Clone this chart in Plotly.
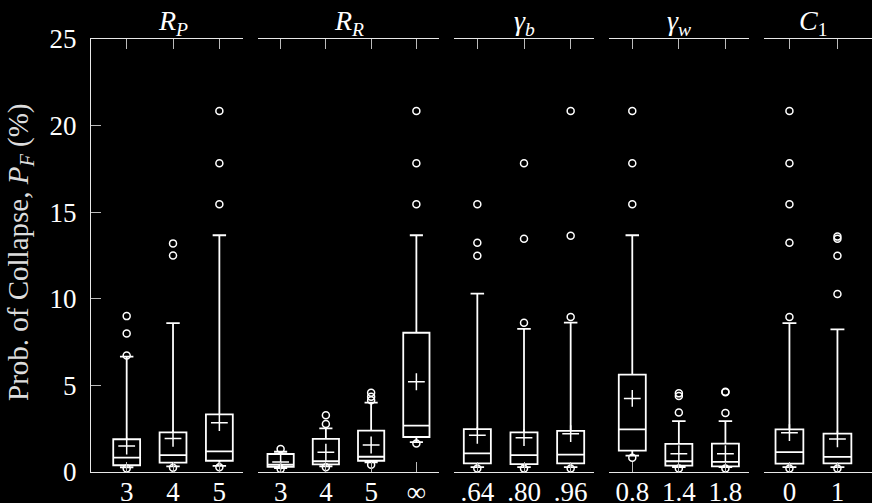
import plotly.graph_objects as go

# ---- data ----
panel_titles = ["<i>R</i><sub><i>P</i></sub>", "<i>R</i><sub><i>R</i></sub>",
                "<i>γ</i><sub><i>b</i></sub>", "<i>γ</i><sub><i>w</i></sub>",
                "<i>C</i><sub>1</sub>"]
panel_ticks = [["3", "4", "5"], ["3", "4", "5", "∞"], [".64", ".80", ".96"],
               ["0.8", "1.4", "1.8"], ["0", "1"]]

box_panel = [0, 0, 0, 1, 1, 1, 1, 2, 2, 2, 3, 3, 3, 4, 4]
box_slot = [0, 1, 2, 0, 1, 2, 3, 0, 1, 2, 0, 1, 2, 0, 1]
q1 = [0.39, 0.54, 0.65, 0.30, 0.44, 0.65, 2.02, 0.50, 0.46, 0.50, 1.23, 0.37, 0.33, 0.48, 0.50]
median = [0.83, 0.98, 1.19, 0.42, 0.62, 0.88, 2.68, 1.08, 0.98, 1.00, 2.46, 0.62, 0.58, 1.15, 0.87]
q3 = [1.89, 2.29, 3.33, 1.04, 1.91, 2.39, 8.04, 2.48, 2.29, 2.37, 5.62, 1.62, 1.64, 2.46, 2.21]
lower_whisker = [0.27, 0.32, 0.35, 0.22, 0.33, 0.55, 1.72, 0.28, 0.28, 0.28, 0.95, 0.28, 0.28, 0.28, 0.28]
upper_whisker = [6.66, 8.60, 13.67, 1.17, 2.52, 4.00, 13.67, 10.30, 8.26, 8.62, 13.67, 2.94, 2.94, 8.60, 8.24]
mean = [1.50, 1.94, 2.85, 0.58, 1.14, 1.56, 5.21, 2.12, 1.98, 2.21, 4.25, 1.06, 1.06, 2.27, 1.91]
outliers = [
    [9.0, 8.0, 6.72, 0.2],
    [13.2, 12.5, 0.25],
    [20.84, 17.82, 15.46, 0.28],
    [1.33, 0.17],
    [3.27, 2.77, 0.27],
    [4.58, 4.35, 4.14, 0.42],
    [20.84, 17.82, 15.46, 1.65],
    [15.46, 13.24, 12.49, 0.2],
    [17.82, 13.47, 8.62, 0.2],
    [20.84, 13.64, 8.95, 0.2],
    [20.84, 17.82, 15.46, 0.82],
    [4.54, 4.39, 3.43, 0.2],
    [4.64, 4.60, 3.41, 0.2],
    [20.84, 17.82, 15.46, 13.24, 8.95, 0.2],
    [13.59, 13.47, 12.49, 10.28, 0.2],
]
y_ticks = [0, 5, 10, 15, 20, 25]

# ---- layout geometry ----
W, H = 872, 503
ML, MR, MT, MB = 91, 0, 39, 31
PW = W - ML - MR
PH = H - MT - MB
panel_px = [(91, 243), (258, 439), (454, 594), (609, 748.7), (764, 872)]
panel_ranges = [[-0.77, 2.51], [-0.5, 3.5], [-0.5, 2.5], [-0.5, 2.5], [-0.53, 1.72]]

FONT = "Liberation Serif"
LINE = "#e8e8e8"
WHITE = "#ffffff"

fig = go.Figure()

def axname(p):
    return "x" if p == 0 else f"x{p+1}"

for i in range(len(q1)):
    p = box_panel[i]
    xa = axname(p)
    fig.add_trace(go.Box(
        x=[box_slot[i]], q1=[q1[i]], median=[median[i]], q3=[q3[i]],
        lowerfence=[lower_whisker[i]], upperfence=[upper_whisker[i]],
        width=0.58, whiskerwidth=0.5, boxpoints=False,
        line=dict(color=WHITE, width=1.8), fillcolor="rgba(0,0,0,0)",
        xaxis=xa, yaxis="y", showlegend=False, hoverinfo="skip"))
    fig.add_trace(go.Scatter(
        x=[box_slot[i]] * len(outliers[i]), y=outliers[i], mode="markers",
        marker=dict(symbol="circle-open", size=7, color=WHITE, line=dict(width=1.5, color=WHITE)),
        xaxis=xa, yaxis="y", showlegend=False, hoverinfo="skip"))
    fig.add_trace(go.Scatter(
        x=[box_slot[i]], y=[mean[i]], mode="markers",
        marker=dict(symbol="cross-thin", size=12, color=WHITE, line=dict(width=1.5, color=WHITE)),
        xaxis=xa, yaxis="y", showlegend=False, hoverinfo="skip"))

layout = dict(
    width=W, height=H,
    margin=dict(l=ML, r=MR, t=MT, b=MB, pad=0, autoexpand=False),
    paper_bgcolor="black", plot_bgcolor="black",
    font=dict(family=FONT, color=WHITE, size=24),
    showlegend=False,
)

for p in range(5):
    x0, x1 = panel_px[p]
    key = "xaxis" if p == 0 else f"xaxis{p+1}"
    layout[key] = dict(
        domain=[(x0 - ML) / PW, min(1.0, (x1 - ML) / PW)],
        range=panel_ranges[p], anchor="y", automargin=False,
        tickmode="array", tickvals=list(range(len(panel_ticks[p]))), ticktext=panel_ticks[p],
        ticks="inside", ticklen=10, tickwidth=1, tickcolor="#bbbbbb",
        showline=True, linecolor=LINE, linewidth=1.3, mirror="ticks",
        showgrid=False, zeroline=False,
        tickfont=dict(family=FONT, size=27, color=WHITE),
        ticklabelstandoff=-5,
    )

layout["yaxis"] = dict(
    range=[0, 25], anchor="x", domain=[0, 1], automargin=False,
    tickmode="array", tickvals=y_ticks,
    ticks="inside", ticklen=10, tickwidth=1, tickcolor="#bbbbbb",
    showline=True, linecolor=LINE, linewidth=1.3, mirror=False,
    showgrid=False, zeroline=False,
    tickfont=dict(family=FONT, size=27, color=WHITE),
    ticklabelstandoff=8,
)

fig.update_layout(**layout)

annotations = []
title_x = [1, 1.5, 1, 1, 0.5]
for p in range(5):
    annotations.append(dict(
        text=panel_titles[p], xref=axname(p), x=title_x[p], yref="paper", y=1 + (MT - 22) / PH,
        xanchor="center", yanchor="middle", showarrow=False,
        font=dict(family=FONT, size=28, color=WHITE)))
annotations.append(dict(
    text="Prob. of Collapse, <i>P</i><sub><i>F</i></sub> (%)",
    xref="paper", x=(20 - ML) / PW, yref="paper", y=(472 - 252) / PH,
    xanchor="center", yanchor="middle", textangle=-90, showarrow=False,
    font=dict(family=FONT, size=29, color="#dddddd")))
fig.update_layout(annotations=annotations)

fig.write_html("out.html",
               config={"displayModeBar": False},
               post_script="document.body.style.margin='0';document.body.style.padding='0';"
                           "document.body.style.background='black';")
